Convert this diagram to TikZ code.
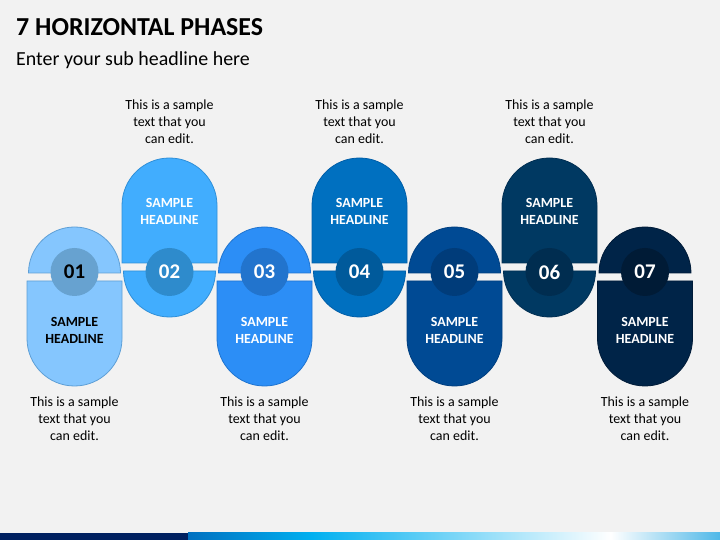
\documentclass[tikz,border=0pt]{standalone}
\usepackage{fontspec}
\setmainfont{Carlito}
\definecolor{bg}{HTML}{F2F2F2}
\definecolor{fA}{HTML}{85C6FE}\definecolor{dA}{HTML}{67A2D0}\definecolor{eA}{HTML}{5E9FD6}
\definecolor{fB}{HTML}{41ADFE}\definecolor{dB}{HTML}{2E8BCC}\definecolor{eB}{HTML}{2F8FD8}
\definecolor{fC}{HTML}{2C8EF6}\definecolor{dC}{HTML}{2274CD}\definecolor{eC}{HTML}{1F74D0}
\definecolor{fD}{HTML}{0070C0}\definecolor{dD}{HTML}{005A9B}\definecolor{eD}{HTML}{005EA8}
\definecolor{fE}{HTML}{004A94}\definecolor{dE}{HTML}{003C7A}\definecolor{eE}{HTML}{003F80}
\definecolor{fF}{HTML}{003962}\definecolor{dF}{HTML}{002D50}\definecolor{eF}{HTML}{002E52}
\definecolor{fG}{HTML}{002448}\definecolor{dG}{HTML}{001B36}\definecolor{eG}{HTML}{001B38}
\definecolor{navy}{HTML}{002060}
\definecolor{barblue}{HTML}{0070C0}
\definecolor{barcyan}{HTML}{00B0F0}
\definecolor{barend}{HTML}{4FB8E8}
\newcommand\PhaseOdd[3]{%
  \filldraw[fill=#2, draw=#3, line width=0.8bp] (#1-46,267) arc[start angle=180,end angle=0,radius=46] -- cycle;
  \filldraw[fill=#2, draw=#3, line width=0.8bp] (#1-47.5,259) -- (#1+47.5,259) -- (#1+47.5,201.5) arc[start angle=0,end angle=-180,radius=47.5] -- cycle;
}
\newcommand\PhaseEven[3]{%
  \filldraw[fill=#2, draw=#3, line width=0.8bp] (#1-47.5,277) -- (#1-47.5,334.5) arc[start angle=180,end angle=0,radius=47.5] -- (#1+47.5,277) -- cycle;
  \filldraw[fill=#2, draw=#3, line width=0.8bp] (#1-46,269) -- (#1+46,269) arc[start angle=0,end angle=-180,radius=46] -- cycle;
}
\tikzset{
  numcirc/.style={circle, minimum size=48bp, inner sep=0pt, font=\fontsize{21}{24}\selectfont\bfseries, text=white},
  headtxt/.style={align=center, inner sep=0pt, font=\fontsize{14}{17}\selectfont\bfseries, text=white},
  bodytxt/.style={align=center, inner sep=0pt, font=\fontsize{14}{17}\selectfont, text=black},
}
\begin{document}
\begin{tikzpicture}[x=1bp,y=1bp]
\fill[bg] (0,0) rectangle (720,540);
\useasboundingbox (0,0) rectangle (720,540);
% title
\node[anchor=base west, inner sep=0pt, font=\fontsize{26}{30}\selectfont\bfseries] (title) at (16,504) {7 HORIZONTAL PHASES};
\node[anchor=base west, inner sep=0pt, font=\fontsize{20}{24}\selectfont] (subtitle) at (16,474) {Enter your sub headline here};
% shapes
\PhaseOdd{74.5}{fA}{eA}
\PhaseEven{169.5}{fB}{eB}
\PhaseOdd{264.5}{fC}{eC}
\PhaseEven{359.5}{fD}{eD}
\PhaseOdd{454.5}{fE}{eE}
\PhaseEven{549.5}{fF}{eF}
\PhaseOdd{645}{fG}{eG}
% number circles
\node[numcirc, fill=dA, text=black] (n1) at (74.5,268) {01};
\node[numcirc, fill=dB] (n2) at (169.5,268) {02};
\node[numcirc, fill=dC] (n3) at (264.5,268) {03};
\node[numcirc, fill=dD] (n4) at (359.5,268) {04};
\node[numcirc, fill=dE] (n5) at (454.5,268) {05};
\node[numcirc, fill=dF] (n6) at (549.5,268) {06};
\node[numcirc, fill=dG] (n7) at (645,268) {07};
% headlines
\node[headtxt, text=black] (h1) at (74.5,210) {SAMPLE\\HEADLINE};
\node[headtxt] (h2) at (169.5,329) {SAMPLE\\HEADLINE};
\node[headtxt] (h3) at (264.5,210) {SAMPLE\\HEADLINE};
\node[headtxt] (h4) at (359.5,329) {SAMPLE\\HEADLINE};
\node[headtxt] (h5) at (454.5,210) {SAMPLE\\HEADLINE};
\node[headtxt] (h6) at (549.5,329) {SAMPLE\\HEADLINE};
\node[headtxt] (h7) at (645,210) {SAMPLE\\HEADLINE};
% body texts
\node[bodytxt] (t1) at (74.5,121) {This is a sample\\text that you\\can edit.};
\node[bodytxt] (t2) at (169.5,418) {This is a sample\\text that you\\can edit.};
\node[bodytxt] (t3) at (264.5,121) {This is a sample\\text that you\\can edit.};
\node[bodytxt] (t4) at (359.5,418) {This is a sample\\text that you\\can edit.};
\node[bodytxt] (t5) at (454.5,121) {This is a sample\\text that you\\can edit.};
\node[bodytxt] (t6) at (549.5,418) {This is a sample\\text that you\\can edit.};
\node[bodytxt] (t7) at (645,121) {This is a sample\\text that you\\can edit.};
% bottom bar
\fill[navy] (0,0) rectangle (188,7);
\shade[left color=barblue, right color=barcyan] (188,0) rectangle (312,7);
\shade[left color=barcyan, right color=white] (311.5,0) rectangle (611,7);
\shade[left color=white, right color=barend] (610.5,0) rectangle (720,7);
\end{tikzpicture}
\end{document}
